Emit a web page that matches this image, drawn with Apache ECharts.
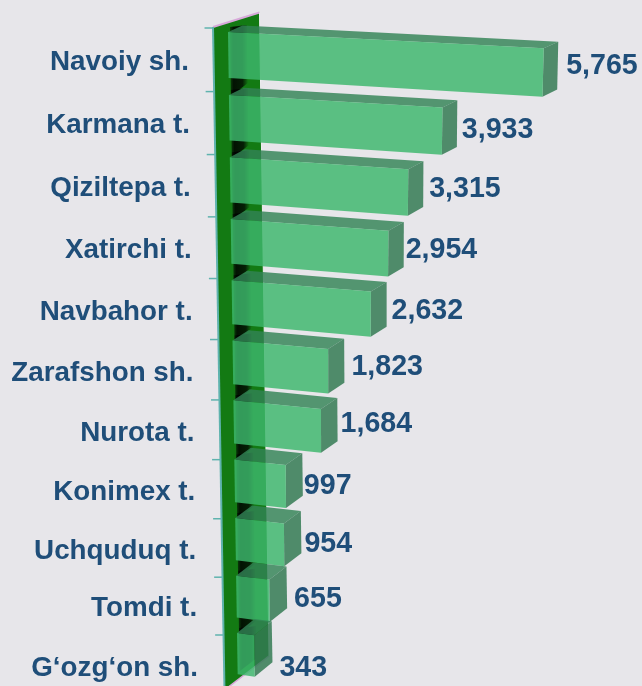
<!DOCTYPE html>
<html><head><meta charset="utf-8">
<style>html,body{margin:0;padding:0;background:#E7E6EA}#c{width:642px;height:686px}</style>
<script src="https://cdn.jsdelivr.net/npm/echarts@6/dist/echarts.min.js"></script>
</head><body><div id="c"></div>
<script>
const categories = ["Navoiy sh.","Karmana t.","Qiziltepa t.","Xatirchi t.","Navbahor t.","Zarafshon sh.","Nurota t.","Konimex t.","Uchquduq t.","Tomdi t.","G‘ozg‘on sh."];
const values = [5765,3933,3315,2954,2632,1823,1684,997,954,655,343];
const valueLabels = ["5,765","3,933","3,315","2,954","2,632","1,823","1,684","997","954","655","343"];
// small label nudges (layout only, relative to the computed bar end)
const valueNudgeX = [9,5,6,2,5,7,3,1,3,7,7];
const valueNudgeY = [0,7,5,5,7,6,5,12,12,12,26];
const catNudgeY = [7,8,8,9,10,11,11,11,12,12,15];

const gridLeft=228, gridTop=32, rowH=60, unit=0.0546, maxV=6000;
const barFrac=0.73;
const FONT='"Liberation Sans", Arial, sans-serif';
const INK='#1F4E79';
const chart=echarts.init(document.getElementById('c'),null,{renderer:'canvas'});

function rowY(t){return 32+63.32*t-0.322*t*t;}
// perspective: flat grid pixel -> sloped chart plane
function project(px,py,depth){
  const vpx=px-gridLeft;
  const t=(py-gridTop)/rowH-(1-barFrac)/2;
  const ratio=(0.0546-0.00046*(t-0.37))/0.0546;
  const x=228+0.9*t+vpx*ratio;
  const frac=t-Math.floor(t+1e-6);
  const y=rowY(t)+vpx*(0.0028+0.00038*t+0.0002*frac)/0.0546;
  const dx=depth*(14.5+0.3*t), dy=-depth*(6.5+0.75*t);
  return [x+dx,y+dy];
}
function poly(points,fill,z){return {type:'polygon',shape:{points},style:{fill},z2:z||0};}

function renderBar(params,api){
  const i=api.value(0), v=api.value(1);
  const c0=api.coord([0,i]), c1=api.coord([v,i]);
  const h=api.size([0,1])[1]*barFrac/2;
  const x0=c0[0],x1=c1[0],yt=c0[1]-h,yb=c0[1]+h;
  const FTL=project(x0,yt,0),FTR=project(x1,yt,0),FBL=project(x0,yb,0),FBR=project(x1,yb,0);
  const BTL=project(x0,yt,1),BTR=project(x1,yt,1),BBR=project(x1,yb,1);
  const children=[];
  children.push(poly([FTL,BTL,BTR,FTR],'rgba(50,130,85,0.82)'));
  children.push(poly([FTR,BTR,BBR,FBR],'rgba(52,122,84,0.85)'));
  children.push(poly([FTL,FTR,FBR,FBL],'rgba(61,183,108,0.83)'));
  const mid=[BBR[0],(BTR[1]+BBR[1])/2];
  children.push({type:'text',style:{text:valueLabels[i],x:mid[0]+valueNudgeX[i],y:mid[1]+valueNudgeY[i],
    fill:INK,font:'bold 28.6px '+FONT,textAlign:'left',textVerticalAlign:'middle'}});
  const fm=[(FTL[0]),(FTL[1]+FBL[1])/2];
  children.push({type:'text',style:{text:categories[i],x:fm[0]-39,y:fm[1]+catNudgeY[i],
    fill:INK,font:'bold 27.8px '+FONT,textAlign:'right',textVerticalAlign:'middle'}});
  return {type:'group',children};
}
function renderShadow(params,api){
  const i=api.value(0);
  const c0=api.coord([0,i]);
  const row=api.size([0,1])[1];
  const h=row*barFrac/2;
  const a=project(c0[0],c0[1]-h,0);
  const last=i===categories.length-1;
  const b=project(c0[0],c0[1]-h+(last?row*barFrac*0.9:row),0);
  return poly([[a[0]+2,a[1]-5],[a[0]+19,a[1]-7],[b[0]+19,b[1]-12],[b[0]+2,b[1]+1]],
    new echarts.graphic.LinearGradient(0,0,1,0,[{offset:0,color:'rgba(0,0,0,0.45)'},{offset:0.2,color:'rgba(0,0,0,0.85)'},{offset:0.7,color:'rgba(0,0,0,0.75)'},{offset:1,color:'rgba(0,0,0,0.03)'}]));
}
function renderWall(){
  const tl=[213,27],tr=[259.5,12.5],br=[269,656],bl=[224.5,690];
  const kids=[
    poly([tl,tr,br,bl],'#137A13'),
    {type:'polyline',shape:{points:[tl,tr]},style:{stroke:'#D8A9DA',lineWidth:2,fill:null}},
    {type:'polyline',shape:{points:[bl,br]},style:{stroke:'#D8A9DA',lineWidth:1.5,fill:null}},
    {type:'polyline',shape:{points:[tl,bl]},style:{stroke:'#5FB3AE',lineWidth:2,fill:null}},
    {type:'polyline',shape:{points:[tr,br]},style:{stroke:'#F0EEF2',lineWidth:1,fill:null}}
  ];
  return {type:'group',children:kids};
}
function renderTick(params,api){
  const i=api.value(0);
  const y=rowY(i)-4+0.6*i, x=213+(y-27)*0.0175-0.5;
  return {type:'line',shape:{x1:x-8,y1:y,x2:x,y2:y},style:{stroke:'#5FB3AE',lineWidth:1.5}};
}
const rows=values.map((v,i)=>[i,v]);
chart.setOption({
  animation:false,
  backgroundColor:'#E7E6EA',
  grid:{left:gridLeft,top:gridTop,width:maxV*unit,height:rowH*categories.length,outerBoundsMode:'none'},
  xAxis:{type:'value',min:0,max:maxV,show:false},
  yAxis:{type:'category',data:categories,inverse:true,show:false},
  series:[
   {type:'custom',clip:false,silent:true,data:[[0,0]],renderItem:renderWall,z:1,encode:{x:1,y:0}},
   {type:'custom',clip:false,silent:true,data:rows,renderItem:renderTick,z:2,encode:{x:1,y:0}},
   {type:'custom',clip:false,silent:true,data:rows,renderItem:renderShadow,z:3,encode:{x:1,y:0}},
   {type:'custom',clip:false,silent:true,data:rows,renderItem:renderBar,z:4,encode:{x:1,y:0}}
  ]
});
</script></body></html>
